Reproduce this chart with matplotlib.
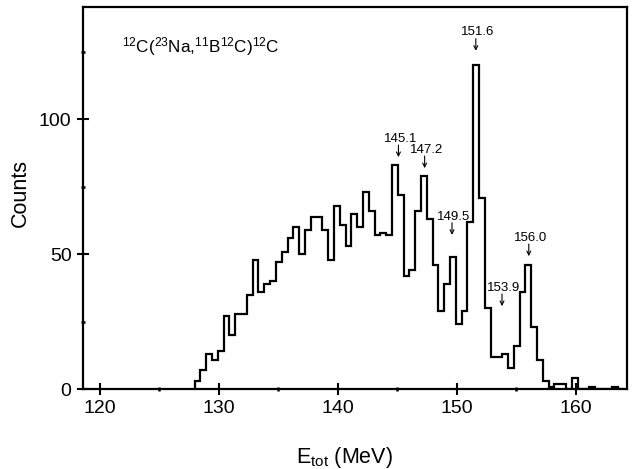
#!/usr/bin/env python3
"""Total energy spectrum for 12C(23Na,11B12C)12C, drawn as a step histogram."""
import numpy as np
import matplotlib
matplotlib.use("Agg")
import matplotlib.pyplot as plt

# Histogram bins (MeV) and counts per bin
bin_start = 127.98
bin_width = 0.4875
counts = [3, 7, 13, 11, 14, 27, 20, 28, 28, 35,
          48, 36, 39, 40, 47, 51, 56, 60, 50, 59,
          64, 64, 59, 48, 68, 61, 53, 65, 60, 73,
          66, 57, 58, 57, 83, 72, 42, 44, 66, 79,
          63, 46, 29, 39, 49, 24, 29, 62, 120, 71,
          30, 12, 12, 13, 8, 16, 36, 46, 23, 11,
          3, 1, 2, 2, 0, 4, 0, 0, 1, 0,
          0, 0, 1, 0]

# Marked peaks: energy, label text and label height (counts)
peak_energy = [145.1, 147.3, 149.6, 151.6, 153.8, 156.05]
peak_labels = ["145.1", "147.2", "149.5", "151.6", "153.9", "156.0"]
label_height = [92.8, 88.7, 64.0, 132.2, 37.6, 56.1]

x_ticks = [120, 130, 140, 150, 160]
y_ticks = [0, 50, 100]

plt.rcParams['font.family'] = ['Liberation Sans', 'DejaVu Sans']
plt.rcParams['mathtext.fontset'] = 'custom'
plt.rcParams['mathtext.rm'] = 'Liberation Sans'
plt.rcParams['mathtext.it'] = 'Liberation Sans:italic'

fig = plt.figure(figsize=(6.35, 4.69), dpi=100)
ax = fig.add_axes([0.1307, 0.170, 0.8567, 0.8144])

edges = bin_start + bin_width * np.arange(len(counts) + 1)
ax.stairs(counts, edges, baseline=0, color='black', lw=1.6)

# peak labels with small arrows under them
for e, lab, h in zip(peak_energy, peak_labels, label_height):
    ax.text(e + 0.15, h, lab, ha='center', va='center', fontsize=9.5)
    ax.annotate('', xy=(e, h - 6.8), xytext=(e, h - 2.3),
                arrowprops=dict(arrowstyle='->', lw=0.8, color='black',
                                shrinkA=0, shrinkB=0, mutation_scale=7))

ax.text(0.072, 0.896, r'$^{12}$C($^{23}$Na,$^{11}$B$^{12}$C)$^{12}$C',
        transform=ax.transAxes, fontsize=12.3, va='center', ha='left')

ax.set_xlim(118.6, 164.3)
ax.set_ylim(0, 141.5)
ax.set_xticks(x_ticks)
ax.set_yticks(y_ticks)
ax.set_xticks([125, 135, 145, 155], minor=True)
ax.set_yticks([25, 75, 125], minor=True)
ax.tick_params(which='major', direction='inout', length=8.5, width=1.5,
               labelsize=14, pad=3.5)
ax.tick_params(axis='y', which='major', pad=4)
ax.tick_params(which='minor', direction='inout', length=3, width=1.8)

for s in ax.spines.values():
    s.set_linewidth(1.6)

ax.set_xlabel(r'E$_{\rm tot}$ (MeV)', fontsize=15.5)
ax.xaxis.set_label_coords(0.48, -0.146)
ax.set_ylabel('Counts', fontsize=15.5)
ax.yaxis.set_label_coords(-0.096, 0.514)

fig.savefig('out.png', dpi=100)
